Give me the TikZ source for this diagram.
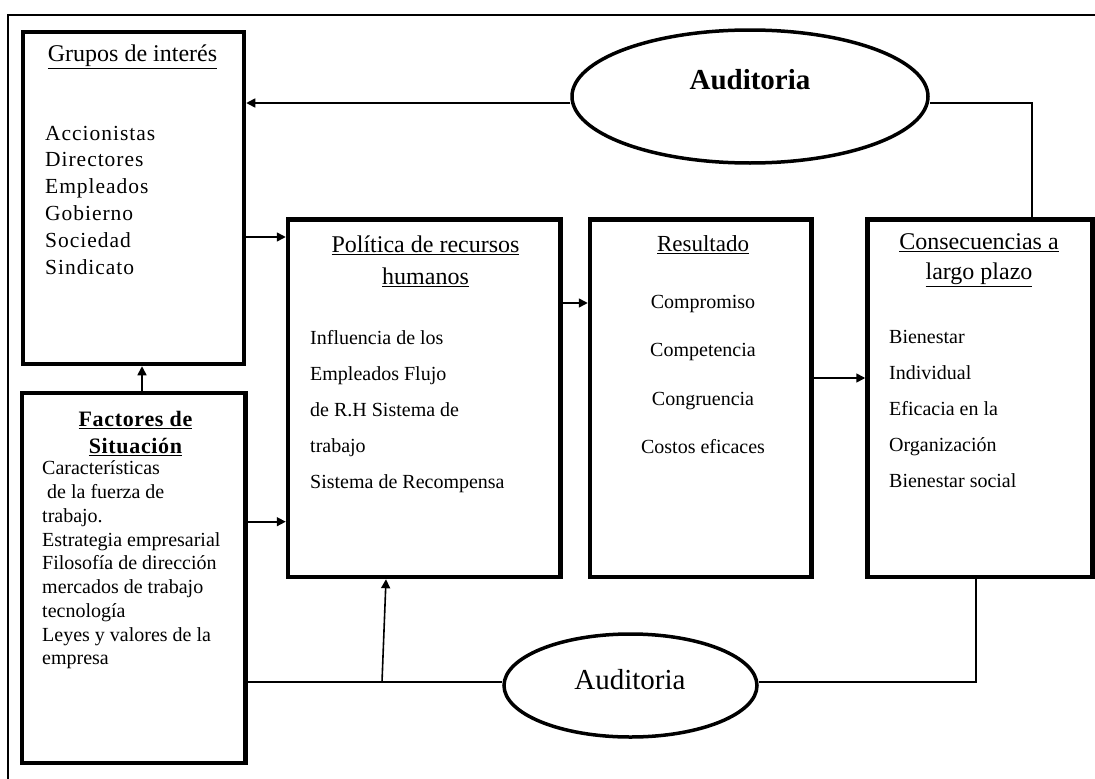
\documentclass[tikz,border=0pt]{standalone}
\usepackage{fontspec}
\setmainfont{Liberation Serif}
\usetikzlibrary{arrows.meta,shapes.geometric}
\tikzset{
  box/.style={draw, line width=4.5pt, rectangle, inner sep=0pt},
  oval/.style={draw, line width=3.5pt, ellipse, inner sep=0pt},
  conn/.style={line width=1.6pt},
  arr/.style={conn, -{Triangle[length=9pt,width=9pt]}},
  title/.style={inner sep=0pt, align=center, font=\fontsize{24}{31}\selectfont},
  items/.style={inner sep=0pt, align=left, font=\fontsize{20}{36}\selectfont},
}
\begin{document}
\begin{tikzpicture}[x=1pt,y=-1pt]
\useasboundingbox (0,0) rectangle (1095,779);
% outer frame (top and left lines)
\draw[line width=2pt] (8,779) -- (8,15) -- (1095,15);

% boxes
\node[box, minimum width=221pt, minimum height=332pt] (grupos) at (133.5,198) {};
\node[box, minimum width=223.5pt, minimum height=370pt] (factores) at (133.75,578) {};
\node[box, minimum width=272.5pt, minimum height=357.5pt] (politica) at (424.25,398.25) {};
\node[box, minimum width=221.5pt, minimum height=357.5pt] (resultado) at (700.75,398.25) {};
\node[box, minimum width=225pt, minimum height=357.5pt] (consec) at (980,398.25) {};

% ellipses
\node[oval, minimum width=356pt, minimum height=133pt] (top) at (750,96.5) {};
\node[font=\fontsize{29}{34}\selectfont\bfseries, inner sep=0pt] (toptxt) at (750,80) {Auditoria};
\node[oval, minimum width=253pt, minimum height=103pt] (bot) at (630.5,685.5) {};
\node[font=\fontsize{29}{34}\selectfont, inner sep=0pt] (bottxt) at (630,680) {Auditoria};

% Grupos de interés
\node[title] (gt) at (132.5,57) {\underline{Grupos de interés}};
\node[inner sep=0pt, align=left, anchor=west,
      font=\fontsize{21.5}{26.8}\selectfont\addfontfeature{LetterSpace=4.5}] (gi) at (45,200)
  {Accionistas\\Directores\\Empleados\\Gobierno\\Sociedad\\Sindicato};

% Factores de Situación
\node[inner sep=0pt, align=center,
      font=\fontsize{22}{27}\selectfont\bfseries\addfontfeature{LetterSpace=3}] (ft) at (135.5,433.5)
  {\underline{Factores de}\\\underline{Situación}};
\node[inner sep=0pt, align=left, anchor=west,
      font=\fontsize{20}{23.75}\selectfont] (fi) at (42,565)
  {Características\\\hspace*{5pt}de la fuerza de\\trabajo.\\Estrategia empresarial\\Filosofía de dirección\\mercados de trabajo\\tecnología\\Leyes y valores de la\\empresa};

% Política de recursos humanos
\node[title, font=\fontsize{24}{32}\selectfont] (pt) at (425.5,261) {\underline{Política de recursos}\\\underline{humanos}};
\node[items, anchor=west] (pi) at (310,411.5)
  {Influencia de los\\Empleados Flujo\\de R.H Sistema de\\trabajo\\Sistema de Recompensa};

% Resultado
\node[title, font=\fontsize{23}{31}\selectfont] (rt) at (703,245) {\underline{Resultado}};
\node[items, align=center, font=\fontsize{20}{48.3}\selectfont] (ri) at (703,374.5)
  {Compromiso\\Competencia\\Congruencia\\Costos eficaces};

% Consecuencias a largo plazo
\node[title, font=\fontsize{24}{30}\selectfont] (ct) at (979,260) {\underline{Consecuencias a}\\\underline{largo plazo}};
\node[items, anchor=west, font=\fontsize{20}{36}\selectfont] (ci) at (889,409)
  {Bienestar\\Individual\\Eficacia en la\\Organización\\Bienestar social};

% helper coordinates
\coordinate (ya) at (0,103);
\coordinate (yb) at (0,237);
\coordinate (yc) at (0,521.7);
\coordinate (yd) at (0,303);
\coordinate (ye) at (0,378);
\coordinate (yf) at (0,682);
\coordinate (xa) at (142,0);
\coordinate (xc) at (976,0);
\coordinate (xd) at (386,0);
\coordinate (xe) at (1032,0);
\coordinate (b1) at (382,682);

% connectors
\draw[arr] (top.west |- ya) -- (grupos.east |- ya);
\draw[conn] (top.east |- ya) -| (consec.north -| xe);
\draw[arr] (grupos.east |- yb) -- (politica.west |- yb);
\draw[arr] (factores.east |- yc) -- (politica.west |- yc);
\draw[arr] (factores.north -| xa) -- (grupos.south -| xa);
\draw[arr] (politica.east |- yd) -- (resultado.west |- yd);
\draw[arr] (resultado.east |- ye) -- (consec.west |- ye);
\draw[conn] (factores.east |- yf) -- (bot.west |- yf);
\draw[arr] (b1) -- (politica.south -| xd);
\draw[conn] (bot.east |- yf) -| (consec.south -| xc);
\end{tikzpicture}
\end{document}
